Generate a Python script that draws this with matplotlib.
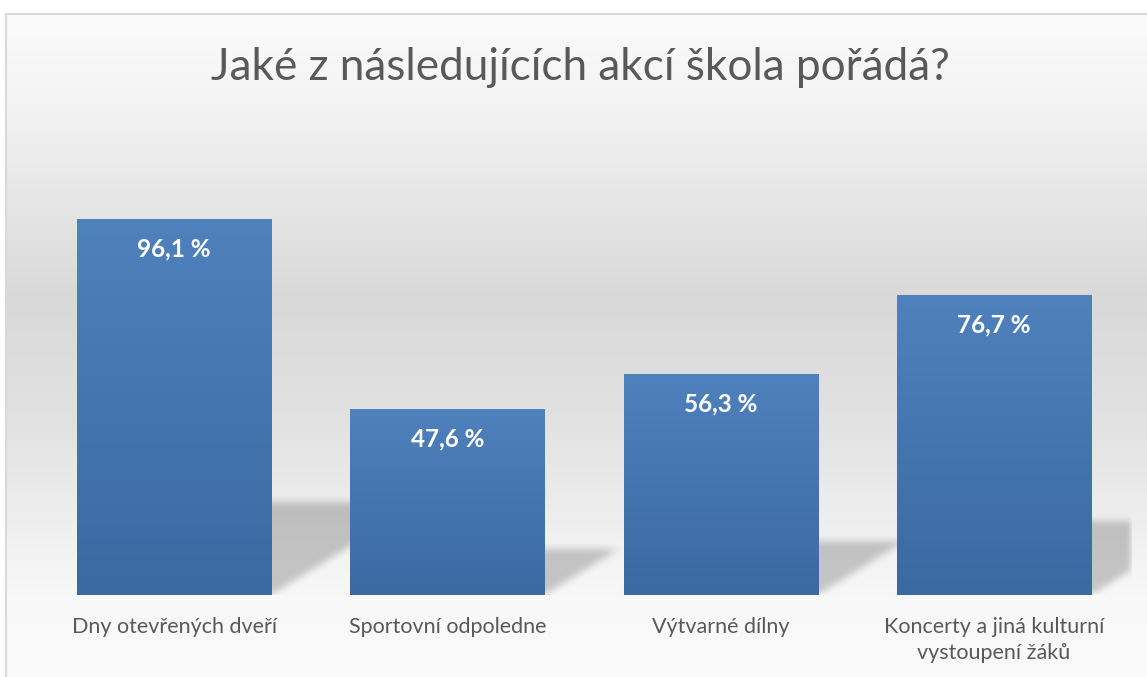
import numpy as np
import matplotlib
matplotlib.use("Agg")
import matplotlib.pyplot as plt
from matplotlib.colors import LinearSegmentedColormap, to_rgb

# ---- data ----
title = "Jaké z následujících akcí škola pořádá?"
categories = ["Dny otevřených dveří", "Sportovní odpoledne", "Výtvarné dílny",
              "Koncerty a jiná kulturní\nvystoupení žáků"]
values = [96.1, 47.6, 56.3, 76.7]
value_labels = ["96,1 %", "47,6 %", "56,3 %", "76,7 %"]

W, H = 1147, 677
DPI = 100
fig = plt.figure(figsize=(W / DPI, H / DPI), dpi=DPI)
fig.patch.set_facecolor("white")

# ---- background (chart area gradient + border) ----
bg = fig.add_axes([0, 0, 1, 1], zorder=0)
bg.set_xlim(0, W)
bg.set_ylim(H, 0)
bg.axis("off")
stops_y = [13, 100, 300, 420, 520, 600, 677]
stops_c = [0.985, 0.955, 0.85, 0.885, 0.935, 0.975, 0.98]
yy = np.arange(13, H)
gray = np.interp(yy, stops_y, stops_c)
img = np.repeat(gray[:, None], 2, axis=1)
bg.imshow(np.dstack([img, img, img]), extent=(6, W + 5, H, 13), aspect="auto",
          interpolation="bilinear", zorder=0)
bg.plot([6, 6, W + 5], [H + 5, 13.5, 13.5], color="#d9d9d9", lw=1.5, zorder=1)

# ---- main axes ----
ax_left, ax_right = 37.5, 1130.7
ax_bottom_px, ax_top_px = 595, 125
ax = fig.add_axes([ax_left / W, (H - ax_bottom_px) / H,
                   (ax_right - ax_left) / W, (ax_bottom_px - ax_top_px) / H], zorder=1)
ax.patch.set_alpha(0)
ymax = 120
ax.set_xlim(-0.5, len(values) - 0.5)
ax.set_ylim(0, ymax)
for s in ax.spines.values():
    s.set_visible(False)
ax.set_yticks([])

x = np.arange(len(values))
bw = 0.71

# ---- perspective shadows (blurred) ----
nx, ny = 1093, 470
gx = np.linspace(-0.5, len(values) - 0.5, nx)
gy = np.linspace(0, ymax, ny)
GX, GY = np.meshgrid(gx, gy)
mask = np.zeros_like(GX)
shear = 1.6 * (ny / ymax) / (nx / len(values))  # data-x per data-y
k = 0.245
for xi, v in zip(x, values):
    xl, xr = xi - bw / 2, xi + bw / 2
    inside = (GY <= k * v) & (GX >= xl + GY * shear) & (GX <= xr + GY * shear)
    mask[inside] = 1.0

def box_blur(a, r, axis):
    kern = np.ones(2 * r + 1) / (2 * r + 1)
    return np.apply_along_axis(lambda m: np.convolve(m, kern, mode="same"), axis, a)

for _ in range(3):
    mask = box_blur(mask, 3, 0)
    mask = box_blur(mask, 3, 1)
shadow = np.zeros((ny, nx, 4))
shadow[..., 3] = 0.2 * mask
ax.imshow(shadow, extent=(-0.5, len(values) - 0.5, 0, ymax), origin="lower",
          aspect="auto", zorder=1, interpolation="bilinear")

# ---- bars with vertical gradient ----
bars = ax.bar(x, values, width=bw, color="#4472ad", zorder=2)
cmap = LinearSegmentedColormap.from_list("bar", [to_rgb("#3b69a2"), to_rgb("#4f81bd")])
grad = np.linspace(0, 1, 256)[:, None]
for b in bars:
    im = ax.imshow(grad, cmap=cmap, origin="lower", aspect="auto",
                   extent=(b.get_x(), b.get_x() + b.get_width(), 0, b.get_height()),
                   zorder=3, interpolation="bilinear")
    im.set_clip_path(b)

ax.set_xlim(-0.5, len(values) - 0.5)
ax.set_ylim(0, ymax)

# ---- value labels ----
for xi, v, lab in zip(x, values, value_labels):
    ax.annotate(lab, xy=(xi, v), xytext=(0, -21.5), textcoords="offset points",
                ha="center", va="center", color="white", fontsize=17.5,
                fontweight="bold", family="Lato", zorder=5)

# ---- category labels ----
ax.set_xticks(x)
ax.set_xticklabels(categories, fontsize=15.5, color="#595959", family="Lato",
                   linespacing=1.35)
ax.tick_params(axis="x", length=0, pad=16)

# ---- title ----
fig.text(580 / W, 1 - 68 / H, title, ha="center", va="center", fontsize=31.8,
         color="#595959", family="Lato", fontweight="normal")

fig.savefig("out.png", dpi=DPI)
